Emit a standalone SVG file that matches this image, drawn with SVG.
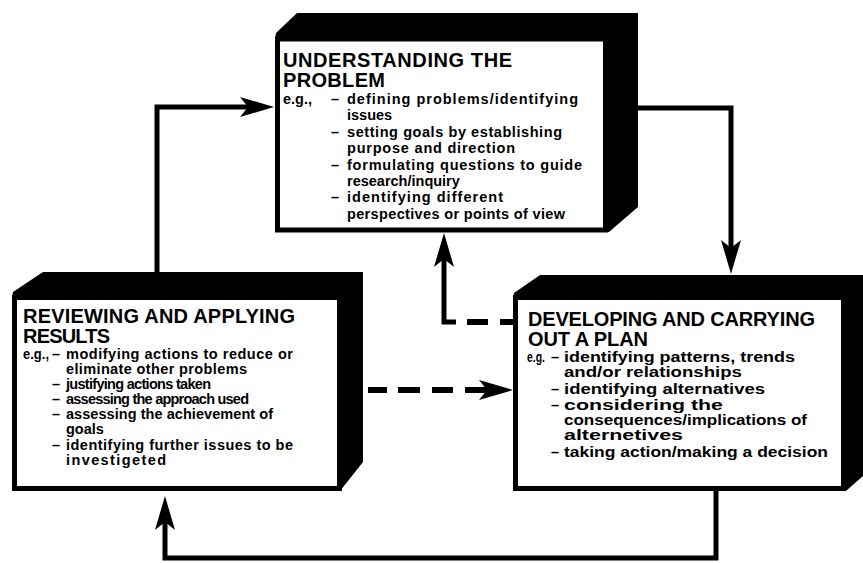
<svg xmlns="http://www.w3.org/2000/svg" width="863" height="563" viewBox="0 0 863 563">
<defs>
<style>
.face{fill:#000;stroke:none}
.front{fill:#fff;stroke:#000;stroke-width:5}
text{font-family:"Liberation Sans",Arial,sans-serif;font-weight:700;fill:#000}
.title{font-size:20px}
.body{font-size:14.5px}
.body2{font-size:14.5px}
.conn{fill:none;stroke:#000;stroke-width:5;stroke-linejoin:miter;stroke-linecap:butt}
.dash{fill:none;stroke:#000;stroke-width:6;stroke-linecap:butt}
</style>
<marker id="arrow" markerUnits="userSpaceOnUse" viewBox="0 0 34 22" markerWidth="34" markerHeight="22" refX="14" refY="11" orient="auto">
<path d="M0,1 L34,11 L0,21 L8,11 Z" fill="#000"/>
</marker>
</defs>
<rect width="863" height="563" fill="#fff"/>

<g id="connectors">
<path class="conn" d="M157,272 V107 H254" marker-end="url(#arrow)"/>
<path class="conn" d="M638,108 H731 V254" marker-end="url(#arrow)"/>
<path class="conn" d="M716,490 V558 H165 V516" marker-end="url(#arrow)"/>
<path class="conn" d="M456,322 H444 V253" marker-end="url(#arrow)"/>
<path class="dash" d="M467,322 H488 M500,322 H513"/>
<path class="dash" d="M368,390 H387 M398,390 H420 M432,390 H453 M465,390 H493" marker-end="url(#arrow)"/>
</g>

<g id="node-understanding">
<polygon class="face" points="275,40 276,33 297,13 638,13 638,207 609,232 275,232"/>
<rect class="front" x="277.5" y="39" width="328" height="191"/>
<text class="title" x="283" y="67" textLength="229">UNDERSTANDING THE</text>
<text class="title" x="283" y="87" textLength="102">PROBLEM</text>
<text class="body" x="283" y="104">e.g.,</text>
<text class="body" x="331" y="104">–</text>
<text class="body" x="347" y="104" textLength="231">defining problems/identifying</text>
<text class="body" x="347" y="120">issues</text>
<text class="body" x="331" y="137">–</text>
<text class="body" x="347" y="137" textLength="215">setting goals by establishing</text>
<text class="body" x="347" y="153" textLength="168">purpose and direction</text>
<text class="body" x="331" y="170">–</text>
<text class="body" x="347" y="170" textLength="235">formulating questions to guide</text>
<text class="body" x="347" y="186">research/inquiry</text>
<text class="body" x="331" y="202">–</text>
<text class="body" x="347" y="202" textLength="156">identifying different</text>
<text class="body" x="347" y="219" textLength="218">perspectives or points of view</text>
</g>

<g id="node-reviewing">
<polygon class="face" points="12,297 13,292 43,272 363,272 363,462 340,491 12,491"/>
<rect class="front" x="14.5" y="297.5" width="325" height="191"/>
<text class="title" x="23" y="323" textLength="272">REVIEWING AND APPLYING</text>
<text class="title" x="23" y="343" textLength="87">RESULTS</text>
<text class="body" x="23" y="359" textLength="26" lengthAdjust="spacingAndGlyphs">e.g.,</text>
<text class="body" x="52" y="359">–</text>
<text class="body" x="66" y="359" textLength="227">modifying actions to reduce or</text>
<text class="body" x="66" y="374" textLength="181">eliminate other problems</text>
<text class="body" x="52" y="389">–</text>
<text class="body" x="66" y="389" textLength="145">justifying actions taken</text>
<text class="body" x="52" y="404">–</text>
<text class="body" x="66" y="404" textLength="183">assessing the approach used</text>
<text class="body" x="52" y="419">–</text>
<text class="body" x="66" y="419" textLength="207">assessing the achievement of</text>
<text class="body" x="66" y="434">goals</text>
<text class="body" x="52" y="450">–</text>
<text class="body" x="66" y="450" textLength="227">identifying further issues to be</text>
<text class="body" x="66" y="465" textLength="100">investigeted</text>
</g>

<g id="node-developing">
<polygon class="face" points="513,298 514,293 540,275 863,275 863,476 846,491 513,491"/>
<rect class="front" x="515.5" y="297.5" width="328" height="191"/>
<text class="title" x="528" y="326" textLength="287">DEVELOPING AND CARRYING</text>
<text class="title" x="528" y="346" textLength="120">OUT A PLAN</text>
<text class="body2" x="527" y="362" textLength="18" lengthAdjust="spacingAndGlyphs">e.g.</text>
<text class="body2" x="551" y="362">–</text>
<text class="body2" x="564" y="362" textLength="231" lengthAdjust="spacingAndGlyphs">identifying patterns, trends</text>
<text class="body2" x="564" y="377" textLength="178" lengthAdjust="spacingAndGlyphs">and/or relationships</text>
<text class="body2" x="551" y="394">–</text>
<text class="body2" x="564" y="394" textLength="201" lengthAdjust="spacingAndGlyphs">identifying alternatives</text>
<text class="body2" x="551" y="410">–</text>
<text class="body2" x="564" y="410" textLength="159" lengthAdjust="spacingAndGlyphs">considering the</text>
<text class="body2" x="564" y="425" textLength="243" lengthAdjust="spacingAndGlyphs">consequences/implications of</text>
<text class="body2" x="564" y="440" textLength="119" lengthAdjust="spacingAndGlyphs">alternetives</text>
<text class="body2" x="551" y="457">–</text>
<text class="body2" x="564" y="457" textLength="264" lengthAdjust="spacingAndGlyphs">taking action/making a decision</text>
</g>
</svg>
